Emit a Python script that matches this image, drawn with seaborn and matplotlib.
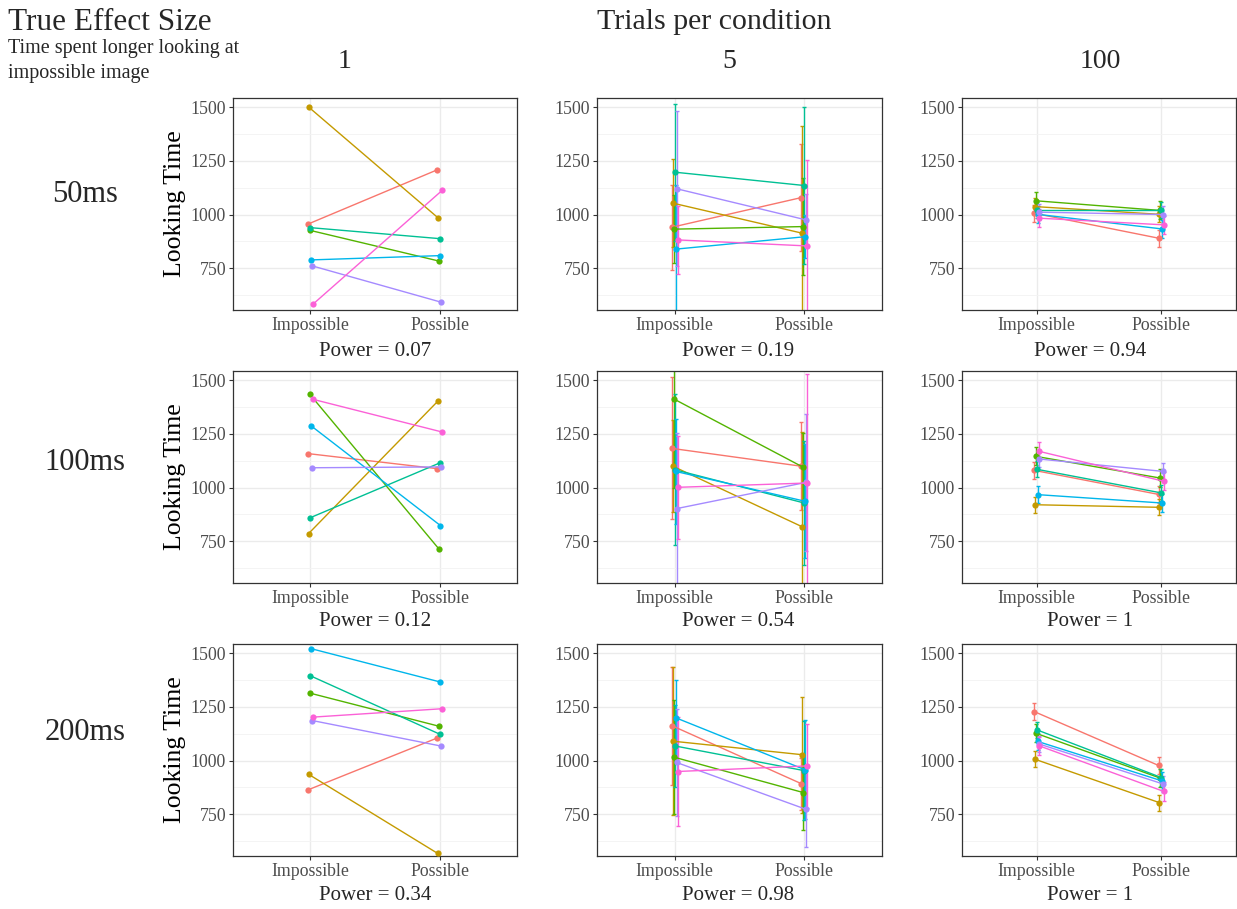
import matplotlib
matplotlib.use('Agg')
import matplotlib.pyplot as plt
import numpy as np
import pandas as pd
import seaborn as sns

# groups (simulated participants), ggplot hue palette
groups = ['1', '2', '3', '4', '5', '6', '7']
palette = ['#F8766D', '#C49A00', '#53B400', '#00C094', '#00B6EB', '#A58AFF', '#FB61D7']
conditions = ['Impossible', 'Possible']
effects = ['50ms', '100ms', '200ms']
trials = ['1', '5', '100']
power = [['0.07', '0.19', '0.94'],
         ['0.12', '0.54', '1'],
         ['0.34', '0.98', '1']]

# 1 trial per condition
imp_50_1 = [955, 1500, 927, 939, 789, 761, 584]
pos_50_1 = [1207, 986, 784, 888, 809, 592, 1113]
imp_100_1 = [1158, 786, 1435, 860, 1286, 1092, 1410]
pos_100_1 = [1088, 1401, 716, 1114, 823, 1096, 1258]
imp_200_1 = [863, 936, 1314, 1394, 1520, 1186, 1202]
pos_200_1 = [1104, 568, 1160, 1123, 1365, 1067, 1241]

# 5 trials per condition
imp_50_5 = [941, 1053, 932, 1197, 839, 1120, 882]
pos_50_5 = [1079, 913, 944, 1135, 897, 975, 854]
imp_err_50_5 = [198, 205, 158, 318, 300, 360, 158]
pos_err_50_5 = [250, 500, 225, 365, 100, 120, 400]
imp_100_5 = [1182, 1099, 1412, 1083, 1075, 902, 1001]
pos_100_5 = [1099, 817, 1094, 928, 936, 1024, 1021]
imp_err_100_5 = [330, 215, 415, 350, 245, 350, 240]
pos_err_100_5 = [205, 440, 160, 290, 265, 320, 505]
imp_200_5 = [1162, 1090, 1016, 1068, 1199, 991, 949]
pos_200_5 = [892, 1027, 851, 953, 957, 773, 975]
imp_err_200_5 = [275, 345, 265, 190, 175, 250, 255]
pos_err_200_5 = [120, 270, 175, 230, 230, 177, 195]

# 100 trials per condition
imp_50_100 = [1006, 1037, 1064, 1022, 1001, 1011, 983]
pos_50_100 = [890, 1001, 1019, 1022, 933, 1000, 952]
imp_100_100 = [1080, 920, 1145, 1085, 967, 1133, 1168]
pos_100_100 = [968, 908, 1044, 975, 928, 1075, 1029]
imp_200_100 = [1228, 1006, 1127, 1143, 1089, 1078, 1068]
pos_200_100 = [977, 804, 918, 921, 905, 891, 856]
err_100 = [40, 38, 42, 38, 40, 38, 42]

panels = {
    (0, 0): (imp_50_1, pos_50_1, None, None),
    (1, 0): (imp_100_1, pos_100_1, None, None),
    (2, 0): (imp_200_1, pos_200_1, None, None),
    (0, 1): (imp_50_5, pos_50_5, imp_err_50_5, pos_err_50_5),
    (1, 1): (imp_100_5, pos_100_5, imp_err_100_5, pos_err_100_5),
    (2, 1): (imp_200_5, pos_200_5, imp_err_200_5, pos_err_200_5),
    (0, 2): (imp_50_100, pos_50_100, err_100, err_100),
    (1, 2): (imp_100_100, pos_100_100, err_100, err_100),
    (2, 2): (imp_200_100, pos_200_100, err_100, err_100),
}

sns.set_theme(style='white')
plt.rcParams['font.family'] = ['Liberation Serif', 'DejaVu Serif']

W, H = 1237, 909
fig = plt.figure(figsize=(W / 100, H / 100), dpi=100)


def box(x0, y0, x1, y1):
    return [x0 / W, 1 - y1 / H, (x1 - x0) / W, (y1 - y0) / H]


col_x = [(233, 517), (597, 882), (962, 1236)]
row_y = [(98, 310), (371, 583), (644, 856)]
dodge = 0.05

for (r, c), (imp, pos, imp_err, pos_err) in panels.items():
    ax = fig.add_axes(box(col_x[c][0], row_y[r][0], col_x[c][1], row_y[r][1]))
    offs = [(i - 3) * dodge / 7 for i in range(len(groups))]
    df = pd.DataFrame({
        'group': groups * 2,
        'cond': ['Impossible'] * 7 + ['Possible'] * 7,
        'x': [0 + o for o in offs] + [1 + o for o in offs],
        'time': imp + pos,
    })
    if imp_err is not None:
        for i, g in enumerate(groups):
            ax.errorbar([0 + offs[i], 1 + offs[i]], [imp[i], pos[i]],
                        yerr=[imp_err[i], pos_err[i]], fmt='none',
                        ecolor=palette[i], elinewidth=1.0, capsize=1.6,
                        capthick=1.0, zorder=2)
    sns.lineplot(data=df, x='x', y='time', hue='group', palette=palette,
                 estimator=None, sort=False, marker='o', markersize=4.5,
                 markeredgewidth=0, linewidth=1.0, legend=False, ax=ax,
                 zorder=3)

    ax.set_xlim(-0.6, 1.6)
    ax.set_ylim(556, 1542)
    ax.set_xticks([0, 1])
    ax.set_xticklabels(conditions)
    ax.set_yticks([750, 1000, 1250, 1500])
    ax.set_yticks([625, 875, 1125, 1375], minor=True)
    ax.grid(True, which='major', color='#EBEBEB', linewidth=1.0)
    ax.grid(True, which='minor', axis='y', color='#F3F3F3', linewidth=0.6)
    ax.set_axisbelow(True)
    ax.tick_params(axis='both', which='major', labelsize=12.8, colors='#333333',
                   labelcolor='#4D4D4D', length=3, width=0.8, pad=2,
                   bottom=True, left=True)
    ax.tick_params(axis='y', which='minor', length=0)
    for s in ax.spines.values():
        s.set_color('#333333')
        s.set_linewidth(0.9)
    ax.set_xlabel('')
    if c == 0:
        ax.set_ylabel('Looking Time', fontsize=18.5, color='black', labelpad=3)
    else:
        ax.set_ylabel('')

# headings
fig.text(8 / W, 1 - 23 / H, 'True Effect Size', fontsize=22.5, va='center', ha='left')
fig.text(8 / W, 1 - 53 / H, 'Time spent longer looking at', fontsize=14.5,
         va='baseline', ha='left')
fig.text(8 / W, 1 - 78 / H, 'impossible image', fontsize=14.5,
         va='baseline', ha='left')
fig.text(714 / W, 1 - 22 / H, 'Trials per condition', fontsize=21.5,
         va='center', ha='center')

col_label_x = [345, 729, 1100]
for c, t in enumerate(trials):
    fig.text(col_label_x[c] / W, 1 - 62 / H, t, fontsize=20, va='center', ha='center')

row_label_y = [195, 462, 732]
for r, e in enumerate(effects):
    fig.text(85 / W, 1 - row_label_y[r] / H, e, fontsize=22, va='center', ha='center')

power_x = [375, 738, 1090]
power_y = [352, 622, 895]
for r in range(3):
    for c in range(3):
        fig.text(power_x[c] / W, 1 - power_y[r] / H, 'Power = ' + power[r][c],
                 fontsize=15, va='center', ha='center')

fig.savefig('out.png', dpi=100)
